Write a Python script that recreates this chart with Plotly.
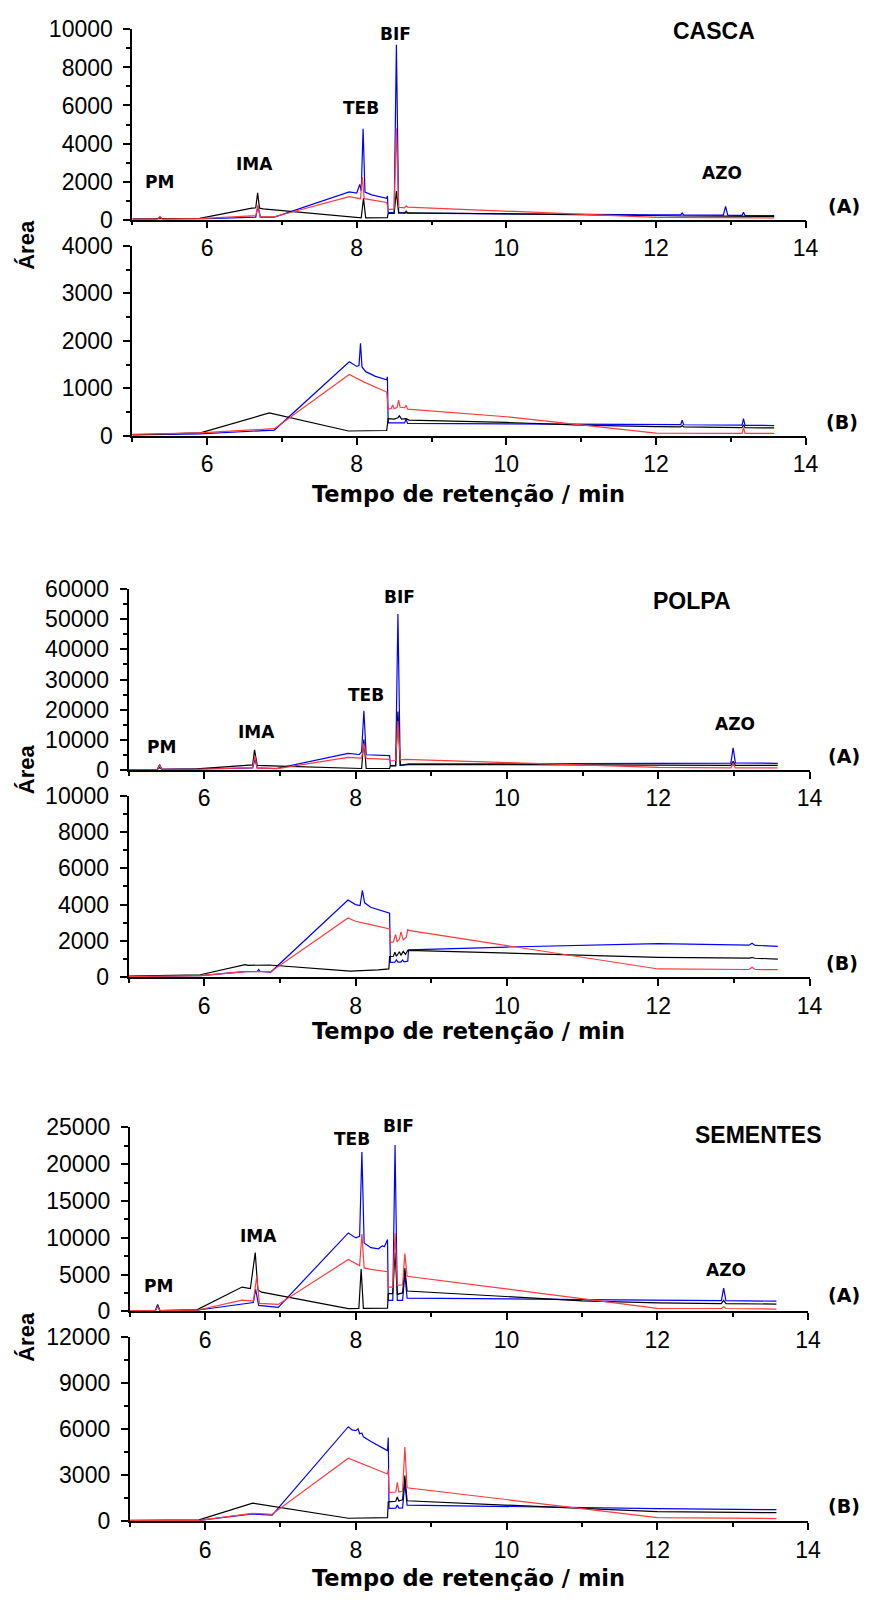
import plotly.graph_objects as go

# Chromatograms: (retention time / min, area) breakpoints for each trace.
# Panels: CASCA, POLPA, SEMENTES; (A) and (B) for each sample.

CASCA_A_AZUL = [(5.00, 20), (5.33, 25), (5.37, 120), (5.41, 25), (5.90, 40), (6.60, 110), (6.65, 130),
                (6.68, 690), (6.71, 130), (6.90, 130), (7.90, 1460), (8.00, 1400), (8.04, 1850), (8.06, 1500),
                (8.085, 4780), (8.11, 1450), (8.20, 1300), (8.40, 1120), (8.41, 1250), (8.42, 380), (8.50, 360),
                (8.53, 9200), (8.56, 380), (8.64, 340), (8.66, 450), (8.68, 340), (10.0, 290), (12.0, 250),
                (12.33, 245), (12.35, 345), (12.37, 245), (12.90, 230), (12.93, 690), (12.96, 230), (13.15, 220),
                (13.17, 380), (13.19, 215), (13.58, 205)]
CASCA_A_PRETO = [(5.00, 20), (5.90, 60), (6.60, 600), (6.65, 620), (6.675, 1410), (6.70, 600), (6.75, 560),
                 (7.95, 100), (8.06, 90), (8.09, 1120), (8.12, 90), (8.41, 100), (8.42, 330), (8.50, 330),
                 (8.53, 1500), (8.56, 340), (8.66, 360), (10.0, 300), (11.0, 240), (12.0, 200), (12.35, 190),
                 (12.93, 180), (13.58, 170)]
CASCA_A_VERMELHO = [(5.00, 30), (5.34, 30), (5.37, 170), (5.40, 30), (5.90, 50), (6.60, 200), (6.65, 210),
                    (6.68, 780), (6.71, 160), (6.90, 150), (7.90, 1210), (8.05, 1100), (8.075, 2240), (8.10, 1100),
                    (8.40, 900), (8.42, 520), (8.50, 560), (8.53, 4800), (8.56, 650), (8.64, 620), (8.66, 720),
                    (8.68, 660), (10.0, 450), (11.0, 280), (12.0, 120), (12.93, 100), (13.58, 90)]

CASCA_B_AZUL = [(5.00, 20), (5.90, 40), (6.90, 120), (7.90, 1560), (8.00, 1460), (8.03, 1480), (8.05, 1950),
                (8.07, 1450), (8.12, 1350), (8.25, 1250), (8.40, 1180), (8.41, 1240), (8.42, 270), (8.55, 265),
                (8.64, 270), (8.66, 350), (8.68, 260), (10.0, 250), (12.0, 236), (12.33, 235), (12.35, 325),
                (12.37, 232), (13.15, 222), (13.17, 360), (13.19, 220), (13.58, 215)]
CASCA_B_PRETO = [(5.00, 20), (5.91, 60), (6.83, 480), (7.89, 100), (8.40, 110), (8.42, 360), (8.50, 350),
                 (8.55, 380), (8.57, 420), (8.60, 350), (8.66, 360), (8.70, 330), (10.0, 280), (11.0, 222),
                 (12.0, 190), (12.33, 185), (12.35, 215), (12.37, 185), (13.15, 170), (13.17, 230), (13.19, 168),
                 (13.58, 166)]
CASCA_B_VERMELHO = [(5.00, 30), (5.90, 60), (6.90, 150), (7.90, 1290), (8.10, 1130), (8.25, 1020), (8.40, 920),
                    (8.42, 560), (8.46, 570), (8.48, 650), (8.50, 570), (8.54, 600), (8.56, 750), (8.58, 600),
                    (8.64, 590), (8.66, 640), (8.68, 560), (10.0, 400), (11.0, 230), (12.0, 56), (13.15, 50),
                    (13.17, 170), (13.19, 50), (13.58, 50)]

POLPA_A_AZUL = [(5.00, 100), (5.38, 150), (5.41, 1740), (5.44, 150), (5.90, 250), (6.60, 600), (6.64, 650),
                (6.67, 3500), (6.70, 650), (6.95, 400), (7.90, 5450), (8.05, 5100), (8.08, 6000), (8.11, 19600),
                (8.14, 5000), (8.45, 4700), (8.46, 1400), (8.53, 1500), (8.56, 51800), (8.59, 1500), (8.66, 1700),
                (8.70, 1950), (10.0, 2000), (12.0, 2150), (12.96, 2200), (12.99, 7290), (13.02, 2300),
                (13.58, 2150)]
POLPA_A_PRETO = [(5.00, 100), (5.38, 150), (5.41, 800), (5.44, 150), (5.90, 300), (6.60, 1600), (6.64, 1650),
                 (6.665, 6640), (6.70, 1500), (7.00, 1200), (7.95, 500), (8.08, 450), (8.11, 10100), (8.14, 450),
                 (8.45, 450), (8.46, 1300), (8.53, 1300), (8.56, 19400), (8.59, 1500), (8.70, 1730), (10.0, 1700),
                 (12.0, 1550), (12.96, 1500), (12.99, 2810), (13.02, 1500), (13.58, 1500)]
POLPA_A_VERMELHO = [(5.00, 100), (5.38, 120), (5.41, 1420), (5.44, 120), (5.90, 200), (6.60, 600), (6.64, 700),
                    (6.67, 4680), (6.70, 600), (6.99, 500), (7.90, 4140), (8.08, 3900), (8.11, 8820), (8.14, 3800),
                    (8.45, 3500), (8.46, 3000), (8.53, 3100), (8.56, 16300), (8.59, 3300), (8.66, 3500),
                    (8.70, 3460), (10.0, 2400), (12.0, 800), (12.96, 660), (12.99, 1960), (13.02, 660),
                    (13.58, 650)]

POLPA_B_AZUL = [(5.00, 30), (5.95, 80), (6.54, 300), (6.70, 310), (6.72, 420), (6.74, 310), (6.88, 280),
                (7.90, 4250), (8.00, 4000), (8.06, 3950), (8.09, 4790), (8.12, 4100), (8.20, 3850), (8.45, 3530),
                (8.46, 810), (8.52, 820), (8.54, 950), (8.56, 830), (8.60, 830), (8.62, 950), (8.64, 840),
                (8.69, 880), (8.70, 1500), (10.0, 1660), (12.0, 1850), (13.20, 1760), (13.24, 1870),
                (13.28, 1750), (13.58, 1700)]
POLPA_B_PRETO = [(5.00, 50), (5.95, 130), (6.54, 690), (6.58, 650), (6.86, 670), (7.93, 330), (8.30, 400),
                 (8.44, 450), (8.45, 1140), (8.50, 1150), (8.52, 1380), (8.54, 1150), (8.58, 1400), (8.60, 1200),
                 (8.63, 1420), (8.66, 1250), (8.69, 1480), (10.0, 1320), (12.0, 1085), (13.20, 1050),
                 (13.24, 1080), (13.28, 1040), (13.58, 995)]
POLPA_B_VERMELHO = [(5.00, 30), (5.95, 80), (6.54, 300), (6.88, 300), (7.90, 3260), (8.00, 3080), (8.20, 2900),
                    (8.45, 2660), (8.46, 1900), (8.50, 1950), (8.53, 2350), (8.55, 1950), (8.58, 2100),
                    (8.60, 2500), (8.63, 2050), (8.67, 2200), (8.69, 2620), (8.72, 2560), (10.0, 1740),
                    (12.0, 450), (13.20, 420), (13.24, 540), (13.28, 420), (13.58, 416)]

SEMENTES_A_AZUL = [(5.00, 100), (5.34, 100), (5.37, 940), (5.40, 100), (5.89, 150), (6.49, 1070), (6.64, 1200),
                   (6.67, 3000), (6.71, 800), (6.97, 540), (7.90, 10650), (8.00, 9980), (8.05, 10200),
                   (8.08, 21650), (8.11, 9300), (8.20, 8650), (8.30, 8500), (8.35, 8900), (8.38, 8800),
                   (8.42, 9760), (8.43, 1500), (8.49, 1500), (8.52, 22600), (8.55, 1500), (8.62, 1500),
                   (8.65, 5000), (8.68, 1800), (11.0, 1600), (12.0, 1515), (12.85, 1450), (12.88, 3160),
                   (12.91, 1450), (13.58, 1380)]
SEMENTES_A_PRETO = [(5.00, 100), (5.34, 100), (5.37, 750), (5.40, 100), (5.89, 200), (6.49, 3300), (6.60, 3080),
                    (6.665, 7980), (6.70, 2900), (6.75, 2600), (7.90, 360), (8.04, 380), (8.07, 5750), (8.10, 400),
                    (8.42, 420), (8.43, 2400), (8.49, 2400), (8.52, 8000), (8.55, 2300), (8.62, 2500),
                    (8.65, 5880), (8.68, 2760), (11.0, 1430), (12.0, 1160), (12.85, 1050), (12.88, 1510),
                    (12.91, 1050), (13.58, 980)]
SEMENTES_A_VERMELHO = [(5.00, 100), (5.34, 100), (5.37, 620), (5.40, 100), (5.89, 150), (6.49, 1510),
                       (6.64, 1400), (6.685, 4720), (6.72, 1070), (6.97, 940), (7.90, 7040), (8.05, 6200),
                       (8.08, 10500), (8.11, 5900), (8.20, 5700), (8.42, 5390), (8.43, 3300), (8.49, 3300),
                       (8.52, 10650), (8.55, 3520), (8.62, 3600), (8.65, 7840), (8.68, 4770), (11.0, 1690),
                       (12.0, 400), (12.85, 380), (12.88, 620), (12.91, 380), (13.58, 310)]

SEMENTES_B_AZUL = [(5.00, 30), (5.92, 50), (6.63, 470), (6.89, 390), (7.90, 6160), (7.95, 5950), (8.00, 5900),
                   (8.03, 6030), (8.05, 5700), (8.08, 5750), (8.10, 5500), (8.20, 5200), (8.42, 4600),
                   (8.43, 5450), (8.44, 830), (8.53, 850), (8.55, 1050), (8.57, 850), (8.62, 870), (8.65, 2500),
                   (8.68, 1050), (11.0, 880), (12.0, 815), (13.58, 750)]
SEMENTES_B_PRETO = [(5.00, 50), (5.92, 80), (6.63, 1180), (7.90, 190), (8.42, 235), (8.43, 1260), (8.53, 1300),
                    (8.55, 1580), (8.57, 1320), (8.62, 1400), (8.65, 2970), (8.68, 1330), (11.0, 830),
                    (12.0, 620), (13.58, 556)]
SEMENTES_B_VERMELHO = [(5.00, 30), (5.92, 50), (6.63, 510), (6.89, 450), (7.90, 4100), (8.10, 3700),
                       (8.42, 3080), (8.43, 3400), (8.44, 1880), (8.53, 1900), (8.55, 2540), (8.57, 1900),
                       (8.62, 1950), (8.65, 4830), (8.68, 2180), (11.0, 820), (12.0, 235), (13.58, 170)]

PEAK_LABELS = ["PM", "IMA", "TEB", "BIF", "AZO"]
SAMPLES = ["CASCA", "POLPA", "SEMENTES"]
X_TICKS = [6, 8, 10, 12, 14]

W, H = 879, 1605
AZUL, PRETO, VERMELHO = "#0000FF", "#000000", "#FF3B3B"
FONT_TICK = "Liberation Sans, Arial, sans-serif"
FONT_BOLD = "DejaVu Sans, Verdana, sans-serif"


def fx(px):
    return px / W


def fy(py):
    return 1 - py / H


# panel frames in pixels: left, right, top, bottom; plus y max, major and minor steps
panels = [
    (134.3, 817.7, 16.7, 210.0, 10000, 2000, 1000, (CASCA_A_AZUL, CASCA_A_PRETO, CASCA_A_VERMELHO)),
    (134.3, 817.7, 236.7, 429.7, 4000, 1000, 500, (CASCA_B_AZUL, CASCA_B_PRETO, CASCA_B_VERMELHO)),
    (130.5, 821.7, 585.7, 769.3, 60000, 10000, 5000, (POLPA_A_AZUL, POLPA_A_PRETO, POLPA_A_VERMELHO)),
    (130.5, 821.7, 795.7, 980.0, 10000, 2000, 1000, (POLPA_B_AZUL, POLPA_B_PRETO, POLPA_B_VERMELHO)),
    (131.7, 820.2, 1132.7, 1319.7, 25000, 5000, 2500, (SEMENTES_A_AZUL, SEMENTES_A_PRETO, SEMENTES_A_VERMELHO)),
    (131.7, 820.2, 1346.0, 1533.0, 12000, 3000, 1500, (SEMENTES_B_AZUL, SEMENTES_B_PRETO, SEMENTES_B_VERMELHO)),
]

fig = go.Figure()
layout = {}
for i, (left, right, top, bottom, ymax, dy, dy_minor, series) in enumerate(panels, start=1):
    xa = "x" if i == 1 else f"x{i}"
    ya = "y" if i == 1 else f"y{i}"
    for pts, color in zip(series, (AZUL, PRETO, VERMELHO)):
        fig.add_trace(go.Scatter(
            x=[p[0] for p in pts], y=[p[1] for p in pts], mode="lines",
            line=dict(color=color, width=1.2), xaxis=xa, yaxis=ya,
            showlegend=False, hoverinfo="skip"))
    common = dict(showline=True, linecolor="black", linewidth=1.8, ticks="outside", ticklen=7,
                  tickwidth=1.5, tickcolor="black", showgrid=False, zeroline=False,
                  tickformat="d",
                  tickfont=dict(family=FONT_TICK, size=23, color="black"))
    layout["xaxis" if i == 1 else f"xaxis{i}"] = dict(
        domain=[fx(left), fx(right)], range=[5, 14], anchor=ya,
        tickmode="array", tickvals=X_TICKS,
        minor=dict(ticks="outside", ticklen=4, tickwidth=1.5, tickcolor="black", dtick=1, tick0=5),
        **common)
    layout["yaxis" if i == 1 else f"yaxis{i}"] = dict(
        domain=[fy(bottom), fy(top)], range=[0, ymax], anchor=xa,
        tick0=0, dtick=dy, ticklabelstandoff=6,
        minor=dict(ticks="outside", ticklen=4, tickwidth=1.5, tickcolor="black", dtick=dy_minor, tick0=0),
        **common)

annotations = []


def ann(text, x, y, size, family=FONT_BOLD, angle=0):
    annotations.append(dict(text=f"<b>{text}</b>", x=fx(x), y=fy(y), xref="paper", yref="paper",
                            xanchor="center", yanchor="middle", showarrow=False, textangle=angle,
                            font=dict(family=family, size=size, color="black")))


peak_pos = [
    [(162, 172), (258, 153), (366, 97), (401, 21), (733, 163)],
    [(164, 746), (260, 731), (371, 693), (405, 594), (746, 723)],
    [(161, 1294), (262, 1243), (357, 1145), (404, 1131), (737, 1278)],
]
title_pos = [(725, 18), (702, 598), (770, 1140)]
ab_pos = [((857, 196), (855, 416)), ((857, 755), (855, 966)), ((857, 1303), (857, 1518))]
xtitle_y = [489, 1035, 1591]
ytitle_y = [236, 769, 1346]

for s, sample in enumerate(SAMPLES):
    for label, (x, y) in zip(PEAK_LABELS, peak_pos[s]):
        ann(label, x, y, 17)
    ann(sample, title_pos[s][0], title_pos[s][1], 23, family="Liberation Sans, Arial, sans-serif")
    ann("(A)", ab_pos[s][0][0], ab_pos[s][0][1], 19)
    ann("(B)", ab_pos[s][1][0], ab_pos[s][1][1], 19)
    ann("Tempo de retenção / min", 476, xtitle_y[s], 22.5)
    ann("Área", 27, ytitle_y[s], 22, family="Liberation Sans, Arial, sans-serif", angle=-90)

fig.update_layout(width=W, height=H, margin=dict(l=0, r=0, t=0, b=0, pad=0),
                  paper_bgcolor="white", plot_bgcolor="white", annotations=annotations, **layout)

fig.write_html("out.html")
